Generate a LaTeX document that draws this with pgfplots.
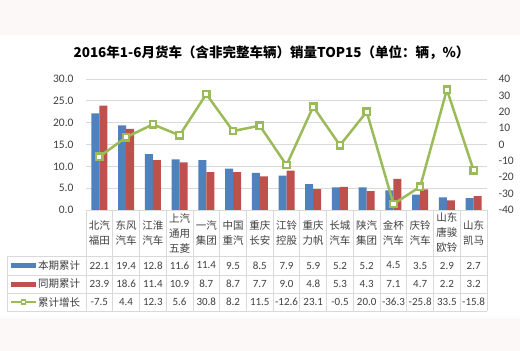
\documentclass[border=0pt]{standalone}
\usepackage{pgfplots}
\pgfplotsset{compat=1.18}
\usepackage{fontspec}
\setmainfont{Carlito}
\newfontfamily\cjk{Noto Sans CJK SC}
\definecolor{bblue}{HTML}{4F81BD}
\definecolor{bred}{HTML}{C0504D}
\definecolor{bgreen}{HTML}{9BBB59}
\definecolor{gridc}{HTML}{D9D9D9}
\definecolor{band}{RGB}{252,248,248}
\definecolor{txt}{HTML}{404040}
\begin{document}
\begin{tikzpicture}
\fill[white] (-86bp,-141bp) rectangle (434bp,210bp);
\fill[band] (-86bp,175bp) rectangle (434bp,210bp);
\fill[band] (-86bp,-141bp) rectangle (434bp,-108bp);
\node[font=\cjk\bfseries\fontsize{13.5bp}{16bp}\selectfont, text=black] at (185.5bp,157bp) {2016年1-6月货车（含非完整车辆）销量TOP15（单位：辆，\%）};
\begin{axis}[at={(0,0)}, anchor=south west, scale only axis, width=401bp, height=131bp,
  xmin=-0.5, xmax=14.5, ymin=0, ymax=30, ytick={0,5,...,30}, xtick=\empty,
  ymajorgrids, grid style={gridc, line width=0.75bp}, axis line style={draw=none},
  major tick length=0pt,
  /pgf/number format/assume math mode=true,
  yticklabel style={font=\fontsize{11.5bp}{13bp}\selectfont, text=txt, xshift=-9bp, /pgf/number format/.cd, fixed, fixed zerofill, precision=1},
  ybar=0pt, bar width=8bp, clip=false]
\addplot[fill=bblue, draw=none] coordinates {(0,22.1) (1,19.4) (2,12.8) (3,11.6) (4,11.4) (5,9.5) (6,8.5) (7,7.9) (8,5.9) (9,5.2) (10,5.2) (11,4.5) (12,3.5) (13,2.9) (14,2.7)};
\addplot[fill=bred, draw=none] coordinates {(0,23.9) (1,18.6) (2,11.4) (3,10.9) (4,8.7) (5,8.7) (6,7.7) (7,9.0) (8,4.8) (9,5.3) (10,4.3) (11,7.1) (12,4.7) (13,2.2) (14,3.2)};
\end{axis}
\begin{axis}[at={(0,0)}, anchor=south west, scale only axis, width=401bp, height=131bp,
  xmin=-0.5, xmax=14.5, ymin=-40, ymax=40, ytick={-40,-30,...,40},
  axis y line*=right, axis x line=none, axis line style={draw=none}, major tick length=0pt,
  /pgf/number format/assume math mode=true,
  yticklabel style={font=\fontsize{11.5bp}{13bp}\selectfont, text=txt, xshift=8bp},
  clip=false]
\addplot[bgreen, line width=2.5bp, mark=square*, mark size=3.2bp, mark options={fill=white, draw=bgreen, line width=2.2bp}] coordinates {(0,-7.5) (1,4.4) (2,12.3) (3,5.6) (4,30.8) (5,8.2) (6,11.5) (7,-12.6) (8,23.1) (9,-0.5) (10,20.0) (11,-36.3) (12,-25.8) (13,33.5) (14,-15.8)};
\end{axis}
% table grid
\draw[gridc, line width=0.75bp] (0,0) -- (401bp,0);
\foreach \yy in {-46,-65,-83,-101} \draw[gridc, line width=0.75bp] (-79bp,\yy bp) -- (401bp,\yy bp);
\draw[gridc, line width=0.75bp] (-79bp,-46bp) -- (-79bp,-101bp);
\foreach \k in {0,...,15} \draw[gridc, line width=0.75bp] ({\k*26.7333bp},0) -- ({\k*26.7333bp},-101bp);
\foreach \k/\t in {0/{北汽\\福田},1/{东风\\汽车},2/{江淮\\汽车},3/{上汽\\通用\\五菱},4/{一汽\\集团},5/{中国\\重汽},6/{重庆\\长安},7/{江铃\\控股},8/{重庆\\力帆},9/{长城\\汽车},10/{陕汽\\集团},11/{金杯\\汽车},12/{庆铃\\汽车},13/{山东\\唐骏\\欧铃},14/{山东\\凯马}}
  \node[align=center, font=\cjk\fontsize{10.5bp}{15bp}\selectfont, text=txt, inner sep=0] at ({(\k+0.5)*26.7333bp},-23bp) {\t};
\foreach \k/\a/\b/\c in {0/22.1/23.9/-7.5,1/19.4/18.6/4.4,2/12.8/11.4/12.3,3/11.6/10.9/5.6,4/11.4/8.7/30.8,5/9.5/8.7/8.2,6/8.5/7.7/11.5,7/7.9/9.0/-12.6,8/5.9/4.8/23.1,9/5.2/5.3/-0.5,10/5.2/4.3/20.0,11/4.5/7.1/-36.3,12/3.5/4.7/-25.8,13/2.9/2.2/33.5,14/2.7/3.2/-15.8}
{
  \node[font=\fontsize{11bp}{13bp}\selectfont, text=txt, inner sep=0] at ({(\k+0.5)*26.7333bp},-55.5bp) {\a};
  \node[font=\fontsize{11bp}{13bp}\selectfont, text=txt, inner sep=0] at ({(\k+0.5)*26.7333bp},-74bp) {\b};
  \node[font=\fontsize{11bp}{13bp}\selectfont, text=txt, inner sep=0] at ({(\k+0.5)*26.7333bp},-92bp) {\c};
}
% legend keys
\fill[bblue] (-75bp,-53bp) rectangle (-50bp,-58bp);
\fill[bred] (-75bp,-71.5bp) rectangle (-50bp,-76.5bp);
\draw[bgreen, line width=1.5bp] (-75bp,-92bp) -- (-50bp,-92bp);
\draw[bgreen, line width=1.2bp, fill=white] (-64.5bp,-94bp) rectangle (-60.5bp,-90bp);
\foreach \yy/\t in {-55.5/本期累计,-74/同期累计,-92/累计增长}
  \node[anchor=west, font=\cjk\fontsize{10.5bp}{13bp}\selectfont, text=txt, inner sep=0] at (-48bp,\yy bp) {\t};
\end{tikzpicture}
\end{document}
